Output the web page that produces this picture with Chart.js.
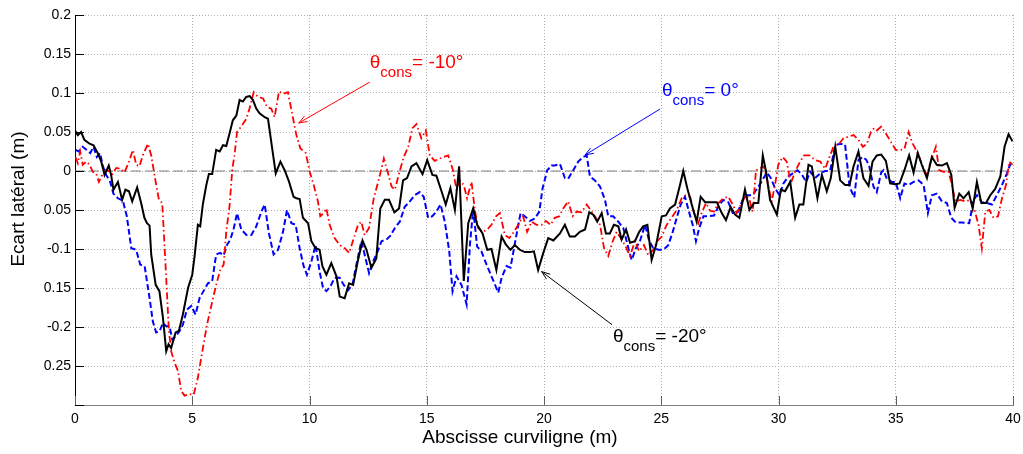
<!DOCTYPE html>
<html>
<head>
<meta charset="utf-8">
<script src="https://cdn.jsdelivr.net/npm/chart.js@4.4.1/dist/chart.umd.min.js"></script>
<style>
  html, body { margin: 0; padding: 0; background: #fff; }
  #wrap { width: 1023px; height: 454px; }
</style>
</head>
<body>
<div id="wrap"><canvas id="chartEcart" width="1023" height="454"></canvas></div>
<script>
// theta_cons = -20° (noir, trait plein)
const noirX = [0, 0.12, 0.26, 0.4, 0.62, 0.79, 0.97, 1.12, 1.26, 1.44, 1.54, 1.64, 1.83, 2.01, 2.15, 2.3, 2.44, 2.65, 2.82, 2.96, 3.07, 3.18, 3.25, 3.44, 3.6, 3.75, 3.89, 3.99, 4.1, 4.29, 4.43, 4.6, 4.82, 5.0, 5.1, 5.24, 5.34, 5.45, 5.6, 5.71, 5.85, 6.02, 6.17, 6.31, 6.45, 6.59, 6.73, 6.88, 7.02, 7.16, 7.3, 7.45, 7.59, 7.73, 7.87, 8.09, 8.23, 8.37, 8.56, 8.76, 8.94, 9.13, 9.32, 9.44, 9.58, 9.72, 9.94, 10.08, 10.26, 10.43, 10.55, 10.72, 10.93, 11.15, 11.29, 11.5, 11.69, 11.86, 12.07, 12.26, 12.43, 12.64, 12.85, 13.02, 13.21, 13.39, 13.62, 13.82, 13.99, 14.16, 14.35, 14.56, 14.82, 15.02, 15.24, 15.41, 15.63, 15.81, 16.01, 16.2, 16.38, 16.58, 16.77, 16.98, 17.15, 17.38, 17.58, 17.76, 17.97, 18.19, 18.37, 18.57, 18.76, 18.97, 19.18, 19.4, 19.57, 19.75, 19.97, 20.18, 20.4, 20.68, 20.89, 21.1, 21.32, 21.53, 21.75, 21.93, 22.1, 22.27, 22.46, 22.64, 22.81, 22.98, 23.17, 23.31, 23.5, 23.67, 23.88, 24.06, 24.23, 24.41, 24.59, 24.78, 25.02, 25.2, 25.37, 25.59, 25.8, 25.94, 26.11, 26.3, 26.51, 26.68, 26.87, 27.08, 27.37, 27.58, 27.76, 27.96, 28.15, 28.33, 28.57, 28.76, 28.96, 29.14, 29.33, 29.47, 29.64, 29.93, 30.1, 30.28, 30.5, 30.71, 30.89, 31.06, 31.28, 31.42, 31.66, 31.85, 32.06, 32.23, 32.42, 32.63, 32.84, 33.03, 33.2, 33.41, 33.62, 33.84, 34.01, 34.19, 34.38, 34.58, 34.76, 34.98, 35.16, 35.37, 35.57, 35.76, 35.94, 36.11, 36.33, 36.54, 36.75, 36.97, 37.18, 37.37, 37.51, 37.71, 37.89, 38.11, 38.28, 38.46, 38.65, 38.85, 39.03, 39.24, 39.46, 39.64, 39.81, 39.98];
const noirY = [0.052, 0.046, 0.05, 0.04, 0.035, 0.033, 0.023, 0.012, -0.005, 0.007, -0.005, -0.024, -0.014, -0.037, -0.024, -0.026, -0.039, -0.021, -0.041, -0.06, -0.067, -0.07, -0.107, -0.146, -0.154, -0.188, -0.231, -0.222, -0.227, -0.207, -0.205, -0.184, -0.15, -0.133, -0.109, -0.069, -0.071, -0.043, -0.018, -0.004, -0.004, 0.027, 0.025, 0.033, 0.032, 0.048, 0.065, 0.071, 0.091, 0.089, 0.095, 0.096, 0.091, 0.08, 0.074, 0.069, 0.067, 0.037, -0.003, 0.012, 0.001, -0.014, -0.033, -0.035, -0.036, -0.06, -0.067, -0.09, -0.099, -0.101, -0.122, -0.133, -0.118, -0.135, -0.161, -0.163, -0.144, -0.146, -0.114, -0.089, -0.101, -0.124, -0.112, -0.048, -0.037, -0.037, -0.053, -0.048, -0.012, -0.009, 0.006, 0.01, -0.004, 0.014, -0.005, -0.006, -0.026, -0.043, -0.022, -0.05, 0.006, -0.141, -0.067, -0.048, -0.069, -0.08, -0.101, -0.1, -0.127, -0.084, -0.094, -0.101, -0.095, -0.101, -0.104, -0.104, -0.103, -0.127, -0.105, -0.086, -0.089, -0.08, -0.069, -0.084, -0.084, -0.078, -0.075, -0.053, -0.056, -0.065, -0.054, -0.08, -0.08, -0.069, -0.071, -0.088, -0.075, -0.092, -0.09, -0.078, -0.071, -0.069, -0.114, -0.095, -0.058, -0.057, -0.048, -0.043, -0.018, 0.0, -0.022, -0.043, -0.065, -0.033, -0.04, -0.04, -0.04, -0.054, -0.063, -0.046, -0.056, -0.06, -0.024, -0.05, -0.041, -0.041, 0.02, -0.001, -0.037, -0.056, -0.024, -0.026, -0.014, -0.06, -0.043, -0.043, 0.008, 0.006, -0.035, -0.005, -0.026, -0.009, 0.031, -0.012, -0.018, -0.018, 0.006, 0.025, -0.009, -0.019, 0.012, 0.02, 0.021, 0.013, -0.016, -0.017, -0.016, 0.001, 0.02, -0.002, 0.023, 0.008, -0.009, 0.018, 0.008, 0.007, 0.01, -0.005, -0.047, -0.029, -0.035, -0.027, -0.048, -0.014, -0.041, -0.041, -0.031, -0.023, -0.007, 0.031, 0.047, 0.038];

// theta_cons = 0° (bleu, tirets)
const bleuX = [0.02, 0.16, 0.33, 0.5, 0.65, 0.79, 0.93, 1.07, 1.19, 1.33, 1.5, 1.64, 1.83, 2.04, 2.21, 2.4, 2.61, 2.78, 2.97, 3.18, 3.32, 3.46, 3.61, 3.75, 3.89, 4.03, 4.15, 4.29, 4.46, 4.6, 4.77, 4.96, 5.14, 5.31, 5.48, 5.67, 5.85, 6.02, 6.19, 6.34, 6.48, 6.62, 6.76, 6.91, 7.09, 7.31, 7.52, 7.73, 7.95, 8.09, 8.27, 8.47, 8.66, 8.87, 9.04, 9.23, 9.41, 9.58, 9.75, 9.89, 10.08, 10.26, 10.43, 10.58, 10.72, 10.89, 11.07, 11.29, 11.46, 11.64, 11.83, 12.0, 12.21, 12.35, 12.54, 12.71, 12.88, 13.07, 13.28, 13.45, 13.64, 13.85, 14.06, 14.28, 14.49, 14.7, 14.87, 15.06, 15.24, 15.41, 15.59, 15.77, 15.96, 16.1, 16.27, 16.48, 16.7, 16.84, 16.98, 17.15, 17.33, 17.55, 17.76, 18.05, 18.19, 18.4, 18.57, 18.8, 19.0, 19.18, 19.4, 19.61, 19.8, 19.94, 20.14, 20.32, 20.46, 20.68, 20.89, 21.03, 21.25, 21.46, 21.67, 21.82, 21.96, 22.17, 22.39, 22.6, 22.74, 22.95, 23.17, 23.38, 23.6, 23.74, 23.92, 24.09, 24.31, 24.49, 24.66, 24.88, 25.09, 25.3, 25.49, 25.66, 25.83, 26.01, 26.2, 26.34, 26.48, 26.62, 26.8, 27.01, 27.25, 27.48, 27.65, 27.86, 28.05, 28.25, 28.47, 28.67, 28.9, 29.1, 29.29, 29.5, 29.67, 29.85, 30.04, 30.21, 30.42, 30.61, 30.81, 30.99, 31.18, 31.35, 31.56, 31.78, 31.99, 32.2, 32.42, 32.63, 32.84, 33.03, 33.23, 33.41, 33.6, 33.75, 33.87, 34.05, 34.19, 34.38, 34.48, 34.62, 34.83, 35.0, 35.19, 35.37, 35.55, 35.76, 35.97, 36.19, 36.37, 36.54, 36.75, 36.97, 37.18, 37.37, 37.56, 37.82, 38.13, 38.32, 38.46, 38.67, 38.89, 39.1, 39.31, 39.53, 39.74, 39.95];
const bleuY = [0.027, 0.025, 0.031, 0.027, 0.023, 0.031, 0.018, 0.023, 0.006, -0.005, -0.014, -0.029, -0.035, -0.038, -0.058, -0.099, -0.101, -0.12, -0.122, -0.163, -0.193, -0.207, -0.205, -0.195, -0.199, -0.199, -0.216, -0.212, -0.205, -0.197, -0.178, -0.173, -0.184, -0.163, -0.154, -0.144, -0.141, -0.107, -0.105, -0.108, -0.095, -0.088, -0.075, -0.054, -0.075, -0.082, -0.082, -0.071, -0.052, -0.043, -0.08, -0.107, -0.101, -0.078, -0.05, -0.067, -0.069, -0.099, -0.122, -0.133, -0.116, -0.095, -0.129, -0.15, -0.154, -0.148, -0.137, -0.137, -0.146, -0.153, -0.146, -0.12, -0.09, -0.107, -0.131, -0.116, -0.105, -0.09, -0.088, -0.083, -0.073, -0.065, -0.046, -0.039, -0.031, -0.027, -0.033, -0.06, -0.058, -0.052, -0.043, -0.065, -0.103, -0.154, -0.135, -0.146, -0.171, -0.095, -0.049, -0.097, -0.103, -0.12, -0.135, -0.156, -0.137, -0.122, -0.124, -0.086, -0.054, -0.058, -0.064, -0.061, -0.052, -0.022, 0.001, 0.007, 0.007, 0.009, -0.009, -0.01, 0.001, 0.012, 0.018, 0.02, -0.007, -0.012, -0.02, -0.037, -0.058, -0.058, -0.065, -0.073, -0.099, -0.114, -0.099, -0.09, -0.069, -0.09, -0.099, -0.101, -0.101, -0.095, -0.078, -0.06, -0.043, -0.033, -0.054, -0.069, -0.09, -0.073, -0.058, -0.058, -0.057, -0.043, -0.037, -0.04, -0.054, -0.054, -0.037, -0.031, -0.031, -0.022, -0.013, -0.002, -0.009, -0.022, -0.031, -0.016, -0.007, -0.003, 0.001, -0.004, -0.014, -0.001, -0.009, -0.003, 0.0, 0.0, 0.033, 0.035, 0.034, -0.02, -0.034, 0.014, 0.018, 0.014, 0.006, -0.02, -0.027, -0.002, 0.001, -0.01, -0.014, -0.014, -0.035, -0.016, -0.018, -0.014, -0.012, -0.018, -0.054, -0.031, -0.029, -0.039, -0.041, -0.06, -0.066, -0.066, -0.067, -0.037, -0.031, -0.04, -0.041, -0.043, -0.031, -0.018, -0.003, 0.014];

// theta_cons = -10° (rouge, tiret-point)
const rougeX = [0.02, 0.12, 0.22, 0.33, 0.48, 0.62, 0.76, 0.9, 1.02, 1.16, 1.3, 1.44, 1.59, 1.76, 1.93, 2.11, 2.3, 2.47, 2.61, 2.75, 2.89, 3.11, 3.25, 3.44, 3.58, 3.72, 3.86, 4.0, 4.1, 4.25, 4.39, 4.53, 4.67, 4.86, 5.06, 5.24, 5.43, 5.63, 5.81, 6.02, 6.19, 6.34, 6.45, 6.59, 6.71, 6.8, 6.91, 7.09, 7.31, 7.48, 7.62, 7.8, 8.02, 8.19, 8.37, 8.51, 8.7, 8.87, 9.08, 9.27, 9.44, 9.61, 9.84, 10.01, 10.18, 10.36, 10.46, 10.61, 10.72, 10.86, 11.07, 11.29, 11.5, 11.69, 11.89, 12.07, 12.21, 12.35, 12.54, 12.74, 12.97, 13.17, 13.35, 13.5, 13.64, 13.82, 14.02, 14.21, 14.39, 14.56, 14.77, 14.96, 15.13, 15.34, 15.56, 15.91, 16.1, 16.27, 16.41, 16.58, 16.72, 16.91, 17.05, 17.19, 17.38, 17.58, 17.76, 17.95, 18.12, 18.33, 18.52, 18.72, 18.9, 19.11, 19.28, 19.47, 19.68, 19.9, 20.08, 20.28, 20.46, 20.65, 20.82, 21.03, 21.22, 21.39, 21.6, 21.82, 21.99, 22.17, 22.39, 22.56, 22.74, 22.93, 23.1, 23.27, 23.45, 23.67, 23.88, 24.06, 24.26, 24.45, 24.66, 24.83, 25.02, 25.23, 25.44, 25.66, 25.87, 26.06, 26.23, 26.4, 26.58, 26.72, 26.91, 27.08, 27.25, 27.44, 27.65, 27.86, 28.05, 28.22, 28.43, 28.62, 28.76, 28.9, 29.04, 29.21, 29.38, 29.53, 29.71, 29.85, 29.99, 30.18, 30.35, 30.52, 30.71, 30.92, 31.09, 31.32, 31.56, 31.78, 31.99, 32.2, 32.37, 32.56, 32.77, 32.98, 33.2, 33.41, 33.6, 33.77, 33.94, 34.08, 34.19, 34.38, 34.58, 34.8, 35.0, 35.19, 35.37, 35.55, 35.69, 35.83, 36.0, 36.19, 36.33, 36.51, 36.71, 36.85, 37.04, 37.25, 37.4, 37.54, 37.75, 37.96, 38.18, 38.36, 38.53, 38.67, 38.82, 38.99, 39.17, 39.36, 39.53, 39.7, 39.84, 39.98];
const rougeY = [0.018, 0.01, 0.025, 0.008, 0.012, 0.008, -0.001, -0.003, -0.014, -0.005, 0.001, 0.0, -0.004, 0.004, 0.003, -0.002, 0.012, 0.027, 0.008, 0.006, 0.02, 0.035, 0.02, -0.014, -0.037, -0.041, -0.12, -0.203, -0.231, -0.246, -0.256, -0.282, -0.288, -0.286, -0.287, -0.265, -0.231, -0.197, -0.173, -0.146, -0.127, -0.12, -0.078, -0.045, 0.003, 0.02, 0.05, 0.057, 0.067, 0.084, 0.101, 0.095, 0.093, 0.082, 0.08, 0.069, 0.102, 0.099, 0.101, 0.072, 0.046, 0.029, 0.023, -0.001, -0.018, -0.039, -0.058, -0.054, -0.048, -0.069, -0.086, -0.095, -0.099, -0.105, -0.086, -0.069, -0.065, -0.082, -0.073, -0.035, -0.009, 0.016, -0.003, -0.02, -0.024, -0.003, 0.018, 0.031, 0.055, 0.06, 0.042, 0.052, 0.02, 0.013, 0.016, 0.02, 0.003, -0.024, -0.012, -0.018, -0.035, -0.014, -0.05, -0.073, -0.078, -0.075, -0.069, -0.058, -0.054, -0.082, -0.086, -0.078, -0.069, -0.058, -0.078, -0.065, -0.069, -0.069, -0.064, -0.069, -0.06, -0.058, -0.048, -0.039, -0.058, -0.052, -0.053, -0.043, -0.05, -0.058, -0.069, -0.099, -0.109, -0.09, -0.078, -0.086, -0.095, -0.109, -0.09, -0.103, -0.095, -0.108, -0.101, -0.09, -0.084, -0.069, -0.06, -0.05, -0.035, -0.031, -0.033, -0.054, -0.067, -0.054, -0.041, -0.051, -0.052, -0.041, -0.035, -0.033, -0.043, -0.054, -0.041, -0.031, -0.037, -0.052, 0.001, 0.003, 0.006, -0.014, -0.039, -0.018, 0.008, 0.018, 0.012, -0.016, -0.001, 0.012, 0.02, 0.02, 0.014, 0.012, 0.003, 0.02, 0.033, 0.034, 0.042, 0.044, 0.046, 0.04, 0.031, 0.035, 0.05, 0.055, 0.052, 0.057, 0.048, 0.037, 0.027, 0.027, 0.028, 0.05, 0.037, 0.029, 0.018, 0.003, -0.005, 0.014, 0.031, 0.001, -0.001, -0.001, -0.018, -0.039, -0.037, -0.039, -0.037, -0.05, -0.069, -0.099, -0.052, -0.05, -0.06, -0.058, -0.035, -0.018, 0.012, 0.008];

// ligne de référence y = 0
const zeroX = [0, 40];
const zeroY = [0, 0];

// étiquettes de l'axe y telles qu'affichées (de -0.3 à 0.2)
const yTickLabels = ['', '0.25', '-0.2', '0.15', '-0.1', '0.05', '0', '0.05', '0.1', '0.15', '0.2'];

// annotations (coordonnées en données)
const annotations = [
    { sub: 'cons', main: '= -10°', color: '#ff0000', tx: 12.57, ty: 0.132, fx: 12.57, fy: 0.114, ax: 9.54, ay: 0.0615 },
    { sub: 'cons', main: '= 0°', color: '#0000ff', tx: 25.03, ty: 0.096, fx: 24.95, fy: 0.0795, ax: 21.75, ay: 0.0205 },
    { sub: 'cons', main: '= -20°', color: '#000000', tx: 22.94, ty: -0.219, fx: 22.9, fy: -0.197, ax: 19.9, ay: -0.129 }
];

const pts = (xs, ys) => xs.map((x, i) => ({ x: x, y: ys[i] }));
const FONT = "'Liberation Sans', Arial, Helvetica, sans-serif";

const decorPlugin = {
    id: 'decor',
    afterDraw(chart) {
        const { ctx, chartArea, scales: { x, y } } = chart;
        ctx.save();

        // petites graduations vers l'intérieur
        ctx.lineWidth = 1;
        ctx.strokeStyle = '#606060';
        for (let v = 0; v <= 40; v += 5) {
            const px = Math.round(x.getPixelForValue(v)) + 0.5;
            ctx.beginPath();
            ctx.moveTo(px, chartArea.bottom);
            ctx.lineTo(px, chartArea.bottom - 9);
            ctx.stroke();
        }
        ctx.strokeStyle = '#000';
        for (let i = 0; i <= 10; i++) {
            const py = Math.round(y.getPixelForValue(-0.3 + i * 0.05)) + 0.5;
            ctx.beginPath();
            ctx.moveTo(chartArea.left, py);
            ctx.lineTo(chartArea.left + 9, py);
            ctx.stroke();
        }

        // titres des axes
        ctx.fillStyle = '#000';
        ctx.font = '19px ' + FONT;
        ctx.textAlign = 'center';
        ctx.textBaseline = 'middle';
        ctx.fillText('Abscisse curviligne (m)', 520, 438);
        ctx.save();
        ctx.translate(19, 199);
        ctx.rotate(-Math.PI / 2);
        ctx.fillText('Ecart latéral (m)', 0, 0);
        ctx.restore();

        // étiquettes theta_cons avec flèches
        annotations.forEach(a => {
            const tx = x.getPixelForValue(a.tx), ty = y.getPixelForValue(a.ty);
            const fx = x.getPixelForValue(a.fx), fy = y.getPixelForValue(a.fy);
            const ax = x.getPixelForValue(a.ax), ay = y.getPixelForValue(a.ay);
            ctx.fillStyle = a.color;
            ctx.strokeStyle = a.color;
            ctx.textAlign = 'left';
            ctx.textBaseline = 'alphabetic';
            ctx.font = '19px ' + FONT;
            ctx.fillText('θ', tx, ty);
            const w1 = ctx.measureText('θ').width;
            ctx.font = '15px ' + FONT;
            ctx.fillText(a.sub, tx + w1, ty + 9);
            const w2 = ctx.measureText(a.sub).width;
            ctx.font = '19px ' + FONT;
            ctx.fillText(a.main, tx + w1 + w2, ty);

            ctx.lineWidth = 1;
            ctx.beginPath();
            ctx.moveTo(fx, fy);
            ctx.lineTo(ax, ay);
            ctx.stroke();
            const ang = Math.atan2(ay - fy, ax - fx);
            const L = 9, da = 0.35;
            ctx.beginPath();
            ctx.moveTo(ax - L * Math.cos(ang - da), ay - L * Math.sin(ang - da));
            ctx.lineTo(ax, ay);
            ctx.lineTo(ax - L * Math.cos(ang + da), ay - L * Math.sin(ang + da));
            ctx.stroke();
        });

        ctx.restore();
    }
};

new Chart(document.getElementById('chartEcart'), {
    type: 'line',
    data: {
        datasets: [
            { label: 'θcons = -20°', data: pts(noirX, noirY), borderColor: '#000000', borderWidth: 2 },
            { label: 'θcons = -10°', data: pts(rougeX, rougeY), borderColor: '#ff0000', borderWidth: 1.8, borderDash: [7, 3, 1.5, 3] },
            { label: 'θcons = 0°', data: pts(bleuX, bleuY), borderColor: '#0000ff', borderWidth: 2, borderDash: [6, 3] },
            { label: 'zero', data: pts(zeroX, zeroY), borderColor: '#808080', borderWidth: 1.2, borderDash: [10, 4] }
        ]
    },
    options: {
        responsive: false,
        animation: false,
        devicePixelRatio: 1,
        layout: { padding: { left: 0, right: 0, top: 15, bottom: 0 } },
        elements: { point: { radius: 0 }, line: { tension: 0, fill: false } },
        plugins: { legend: { display: false }, tooltip: { enabled: false } },
        scales: {
            x: {
                type: 'linear',
                min: 0,
                max: 40,
                afterFit: s => { s.height = 49; s.paddingRight = 10; },
                border: { display: true, color: '#808080', width: 1, dash: [1, 2] },
                grid: { color: '#b0b0b0', lineWidth: 1, drawTicks: false },
                ticks: { stepSize: 5, maxRotation: 0, autoSkip: false, padding: 6, color: '#000', font: { family: FONT, size: 14 } }
            },
            y: {
                min: -0.3,
                max: 0.2,
                afterFit: s => { s.width = 75; },
                border: { display: true, color: '#000000', width: 1, dash: [1, 2] },
                grid: { color: '#b0b0b0', lineWidth: 1, drawTicks: false },
                ticks: {
                    stepSize: 0.05,
                    padding: 4,
                    color: '#000',
                    font: { family: FONT, size: 14 },
                    callback: (v, i) => yTickLabels[i]
                }
            }
        }
    },
    plugins: [decorPlugin]
});
</script>
</body>
</html>
